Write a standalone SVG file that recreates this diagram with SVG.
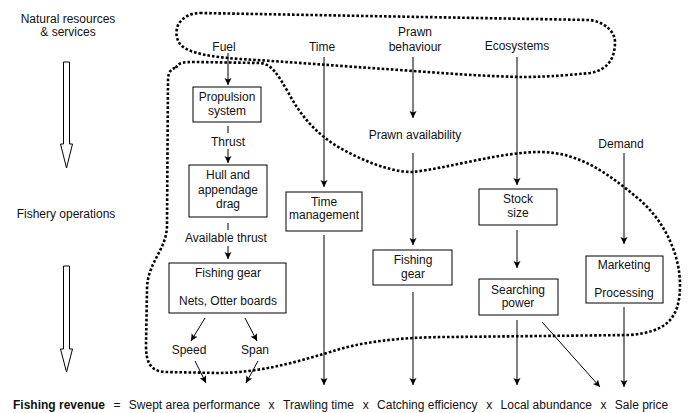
<svg xmlns="http://www.w3.org/2000/svg" width="691" height="413" viewBox="0 0 691 413">
<defs>
<marker id="ah" markerWidth="8" markerHeight="8" refX="7" refY="4" orient="auto" markerUnits="userSpaceOnUse">
<path d="M0,0.5 L7,4 L0,7.5 L1.5,4 Z" fill="#000"/>
</marker>
<style>
text{font-family:"Liberation Sans",Arial,sans-serif;font-size:12px;fill:#111;}
.c{text-anchor:middle;}
.b{font-weight:bold;}
.box{fill:#fff;stroke:#000;stroke-width:1;}
.ln{stroke:#000;stroke-width:1;fill:none;}
.ar{stroke:#000;stroke-width:1;fill:none;marker-end:url(#ah);}
.dot{fill:none;stroke:#000;stroke-width:2.6;stroke-dasharray:2.6 2;}
.big{fill:#fff;stroke:#000;stroke-width:1;}
</style>
</defs>
<rect width="691" height="413" fill="#fff"/>

<g id="regions">
<path class="dot" d="M200,13 L590,20 C605,22 615,32 615,42 C615,58 608,70 590,73 C560,76 540,77 520,77 C480,76 440,73 400,70 C340,66 290,62 240,59 C210,57 190,53 182,46 C175,40 175,28 180,22 C185,16 192,13 200,13 Z"/>
<path class="dot" d="M176,68 C178,62 185,62 195,62 L260,63 C272,64 278,75 288,92 C300,115 315,132 335,145 C360,160 390,172 412,172 C450,168 500,152 540,152 C580,152 610,175 640,200 C665,222 680,255 680,285 C680,320 665,332 630,335 L450,337 C400,337 360,342 330,352 C290,364 260,372 220,373 L165,372 C150,371 146,362 146,345 L147,290 C147,262 167,250 167,225 L168,80 C168,72 172,68 176,68 Z"/>
</g>

<g id="side-labels">
<text class="c" x="68" y="23">Natural resources</text>
<text class="c" x="68" y="36">&amp; services</text>
<text class="c" x="66" y="218">Fishery operations</text>
<path class="big" d="M63.5,62 L69.5,62 L69.5,144 L72.5,144 L66.5,168 L60.5,144 L63.5,144 Z"/>
<path class="big" d="M63.5,266 L69.5,266 L69.5,349 L72.5,349 L66.5,372 L60.5,349 L63.5,349 Z"/>
</g>

<g id="connectors">
<line class="ar" x1="228" y1="53" x2="228" y2="85"/>
<line class="ln" x1="228" y1="126" x2="228" y2="133"/>
<line class="ar" x1="228" y1="149" x2="228" y2="163"/>
<line class="ln" x1="228" y1="223" x2="228" y2="230"/>
<line class="ar" x1="228" y1="246" x2="228" y2="259"/>
<line class="ar" x1="205" y1="318" x2="191" y2="341"/>
<line class="ar" x1="245" y1="318" x2="257" y2="341"/>
<line class="ar" x1="195" y1="361" x2="206" y2="383"/>
<line class="ar" x1="258" y1="361" x2="246" y2="383"/>
<line class="ar" x1="324" y1="57" x2="324" y2="187"/>
<line class="ar" x1="324" y1="235" x2="324" y2="385"/>
<line class="ar" x1="413" y1="57" x2="413" y2="118"/>
<line class="ar" x1="413" y1="153" x2="413" y2="245"/>
<line class="ar" x1="413" y1="292" x2="413" y2="385"/>
<line class="ar" x1="517" y1="57" x2="517" y2="185"/>
<line class="ar" x1="517" y1="230" x2="517" y2="268"/>
<line class="ar" x1="517" y1="320" x2="517" y2="385"/>
<line class="ar" x1="542" y1="322" x2="600" y2="387"/>
<line class="ar" x1="624" y1="153" x2="624" y2="244"/>
<line class="ar" x1="624" y1="307" x2="624" y2="387"/>
</g>

<g id="fuel"><text class="c" x="224" y="51">Fuel</text></g>
<g id="time"><text class="c" x="322" y="51">Time</text></g>
<g id="prawn-behaviour"><text class="c" x="415" y="36">Prawn</text><text class="c" x="415" y="51">behaviour</text></g>
<g id="ecosystems"><text class="c" x="517" y="50">Ecosystems</text></g>
<g id="prawn-availability"><text class="c" x="415" y="139">Prawn availability</text></g>
<g id="demand"><text class="c" x="621" y="148">Demand</text></g>

<g id="propulsion">
<rect class="box" x="193" y="87" width="68" height="35"/>
<text class="c" x="227" y="101">Propulsion</text>
<text class="c" x="227" y="115">system</text>
</g>
<g id="thrust"><text class="c" x="228" y="146">Thrust</text></g>
<g id="hull">
<rect class="box" x="189" y="165" width="78" height="52"/>
<text class="c" x="228" y="179">Hull and</text>
<text class="c" x="228" y="194">appendage</text>
<text class="c" x="228" y="208">drag</text>
</g>
<g id="available-thrust"><text class="c" x="226" y="242">Available thrust</text></g>
<g id="fishing-gear-left">
<rect class="box" x="169" y="263" width="117" height="50"/>
<text class="c" x="228" y="277">Fishing gear</text>
<text class="c" x="228" y="305">Nets, Otter boards</text>
</g>
<g id="speed"><text class="c" x="189" y="354">Speed</text></g>
<g id="span"><text class="c" x="255" y="354">Span</text></g>

<g id="time-management">
<rect class="box" x="286" y="192" width="76" height="39"/>
<text class="c" x="324" y="206">Time</text>
<text class="c" x="324" y="219">management</text>
</g>
<g id="fishing-gear-mid">
<rect class="box" x="373" y="250" width="79" height="35"/>
<text class="c" x="413" y="264">Fishing</text>
<text class="c" x="413" y="278">gear</text>
</g>
<g id="stock-size">
<rect class="box" x="479" y="189" width="78" height="36"/>
<text class="c" x="518" y="203">Stock</text>
<text class="c" x="518" y="217">size</text>
</g>
<g id="searching-power">
<rect class="box" x="479" y="279" width="79" height="36"/>
<text class="c" x="518" y="294">Searching</text>
<text class="c" x="518" y="307">power</text>
</g>
<g id="marketing">
<rect class="box" x="586" y="256" width="77" height="47"/>
<text class="c" x="624" y="269">Marketing</text>
<text class="c" x="624" y="297">Processing</text>
</g>

<g id="equation">
<text class="b" x="13" y="409">Fishing revenue</text>
<text x="113.4" y="409">=</text>
<text x="128.8" y="409">Swept area performance</text>
<text x="268.6" y="409">x</text>
<text x="283" y="409">Trawling time</text>
<text x="362.7" y="409">x</text>
<text x="377.1" y="409">Catching efficiency</text>
<text x="486.2" y="409">x</text>
<text x="500.6" y="409">Local abundance</text>
<text x="600.4" y="409">x</text>
<text x="614.8" y="409">Sale price</text>
</g>
</svg>
